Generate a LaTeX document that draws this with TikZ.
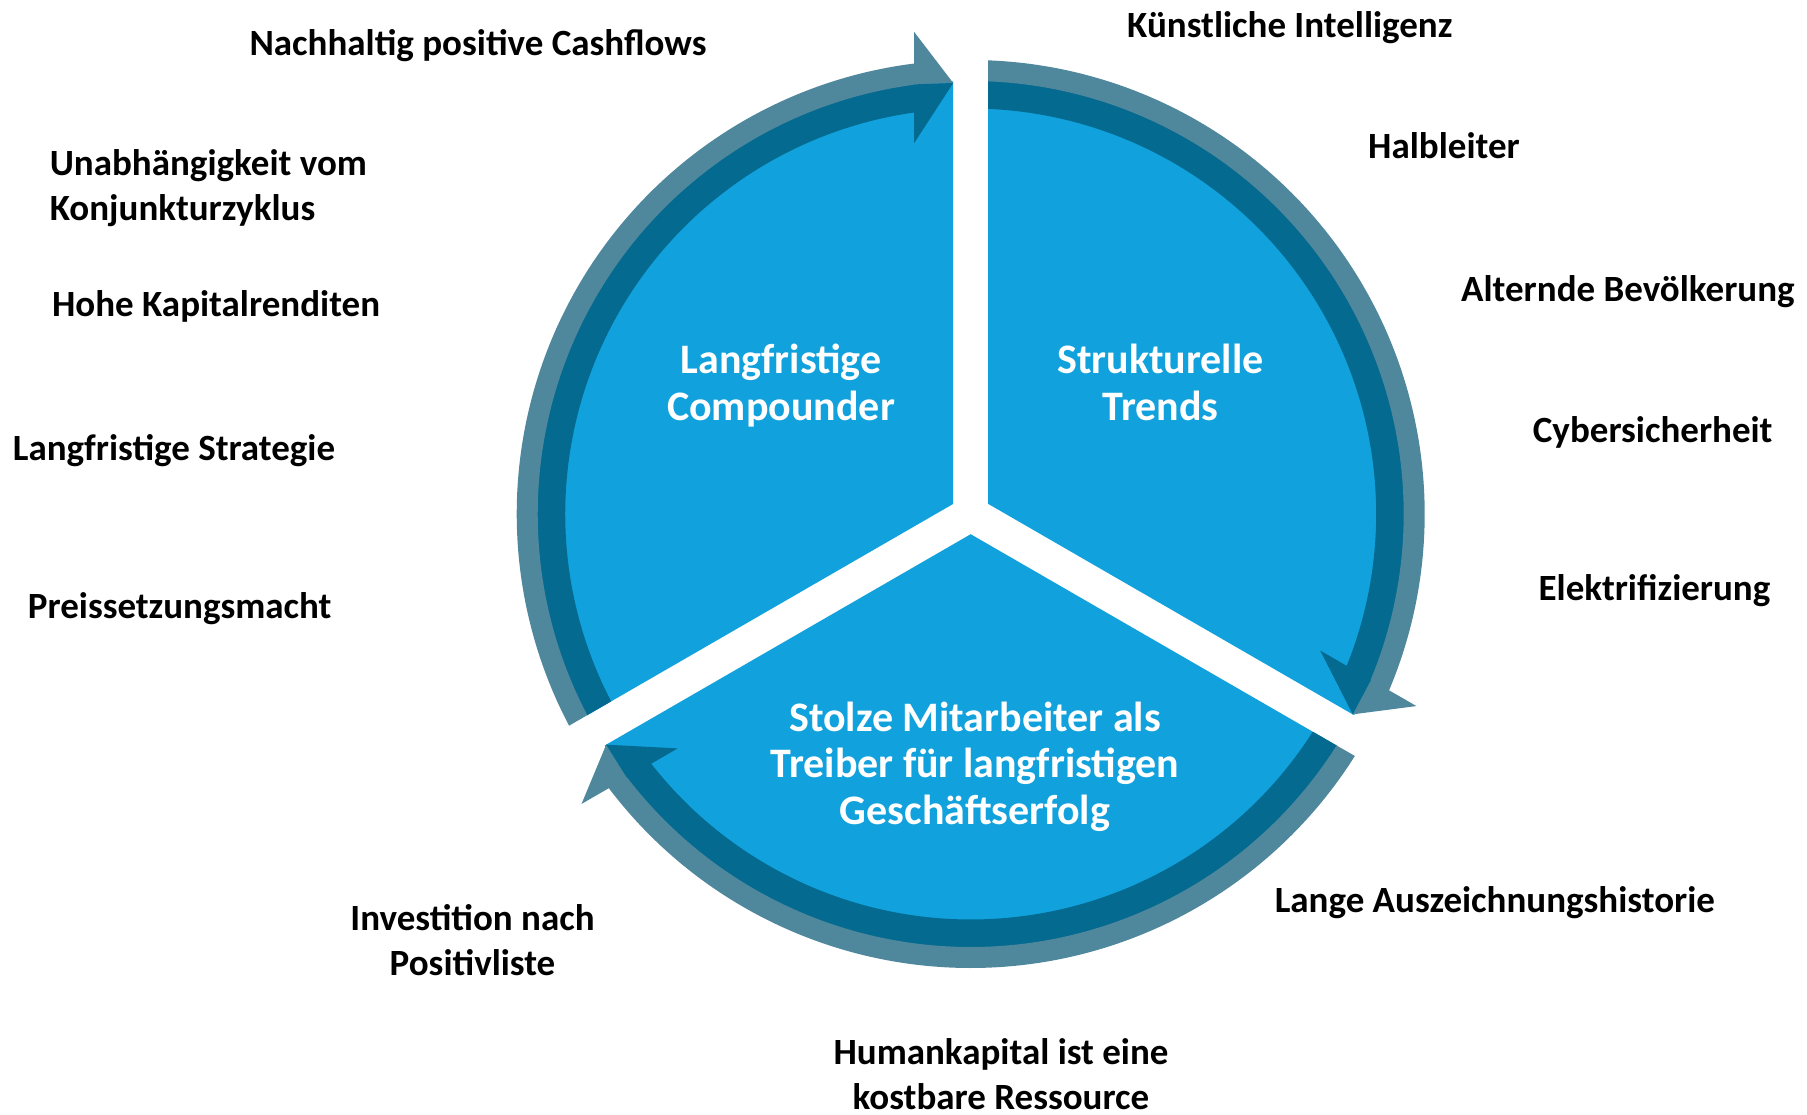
\documentclass[tikz,border=0pt]{standalone}
\usepackage{fontspec}
\setmainfont{Carlito}
\definecolor{fillblue}{HTML}{11A1DC}
\definecolor{banddark}{HTML}{046A8F}
\definecolor{bandlight}{HTML}{4F879C}
\begin{document}
\begin{tikzpicture}[x=1pt,y=1pt,
  outerlabel/.style={font=\fontsize{37}{45}\selectfont\bfseries, text=black, inner sep=0pt},
  innerlabel/.style={font=\fontsize{42}{46.5}\selectfont\bfseries, text=white, align=center, inner sep=0pt}]
\useasboundingbox (0,0) rectangle (1807,-1115);
\coordinate (C) at (970.7,-514);
\foreach \rot in {90,-30,210}{
  \begin{scope}[shift={(C)},rotate=\rot]
    % blue sector
    \fill[fillblue] (10.1,17.5) -- ({asin(17.5/433)}:433)
      arc[start angle={asin(17.5/433)}, end angle={120-asin(17.5/433)}, radius=433] -- cycle;
    % dark band
    \fill[banddark] ({120-asin(17.5/405.5)}:405.5)
      arc[start angle={120-asin(17.5/405.5)}, end angle={asin(55.5/405.5)}, radius=405.5]
      -- ({asin(55.5/433.5)}:433.5)
      arc[start angle={asin(55.5/433.5)}, end angle={120-asin(17.5/433.5)}, radius=433.5] -- cycle;
    % light band
    \fill[bandlight] ({120-asin(17.5/433)}:433)
      arc[start angle={120-asin(17.5/433)}, end angle={asin(55.5/433)}, radius=433]
      -- ({asin(55.5/454)}:454)
      arc[start angle={asin(55.5/454)}, end angle={120-asin(17.5/454)}, radius=454] -- cycle;
    % arrow head
    \fill[bandlight] (431,17.5) -- (482,56.5) -- (429.3,56.5) -- cycle;
    \fill[banddark] (431,17.5) -- (429.6,56.5) -- (371,56.5) -- cycle;
  \end{scope}
}
% inner labels (base anchor = baseline of last line)
\node[innerlabel, anchor=base] (lc) at (781,-420) {Langfristige\\Compounder};
\node[innerlabel, anchor=base] (st) at (1160.5,-420) {Strukturelle\\Trends};
\node[innerlabel, anchor=base] (sm) at (975,-824) {Stolze Mitarbeiter als\\Treiber für langfristigen\\Geschäftserfolg};
% outer labels left
\node[outerlabel, anchor=base] (t1) at (478,-56) {Nachhaltig positive Cashflows};
\node[outerlabel, anchor=base west, align=left] (t2) at (49.6,-220.5) {Unabhängigkeit vom\\Konjunkturzyklus};
\node[outerlabel, anchor=base west] (t3) at (51.9,-316.5) {Hohe Kapitalrenditen};
\node[outerlabel, anchor=base west] (t4) at (12.7,-460.5) {Langfristige Strategie};
\node[outerlabel, anchor=base west] (t5) at (27.7,-618.5) {Preissetzungsmacht};
% outer labels right
\node[outerlabel, anchor=base west] (r1) at (1127,-37.5) {Künstliche Intelligenz};
\node[outerlabel, anchor=base west] (r2) at (1368,-158.5) {Halbleiter};
\node[outerlabel, anchor=base west] (r3) at (1461,-301.5) {Alternde Bevölkerung};
\node[outerlabel, anchor=base west] (r4) at (1532.7,-442.5) {Cybersicherheit};
\node[outerlabel, anchor=base west] (r5) at (1538.4,-600.5) {Elektrifizierung};
\node[outerlabel, anchor=base west] (r6) at (1274.6,-912.5) {Lange Auszeichnungshistorie};
% bottom labels
\node[outerlabel, anchor=base, align=center] (b1) at (472.5,-975) {Investition nach\\Positivliste};
\node[outerlabel, anchor=base, align=center] (b2) at (1001,-1109) {Humankapital ist eine\\kostbare Ressource};
\end{tikzpicture}
\end{document}
